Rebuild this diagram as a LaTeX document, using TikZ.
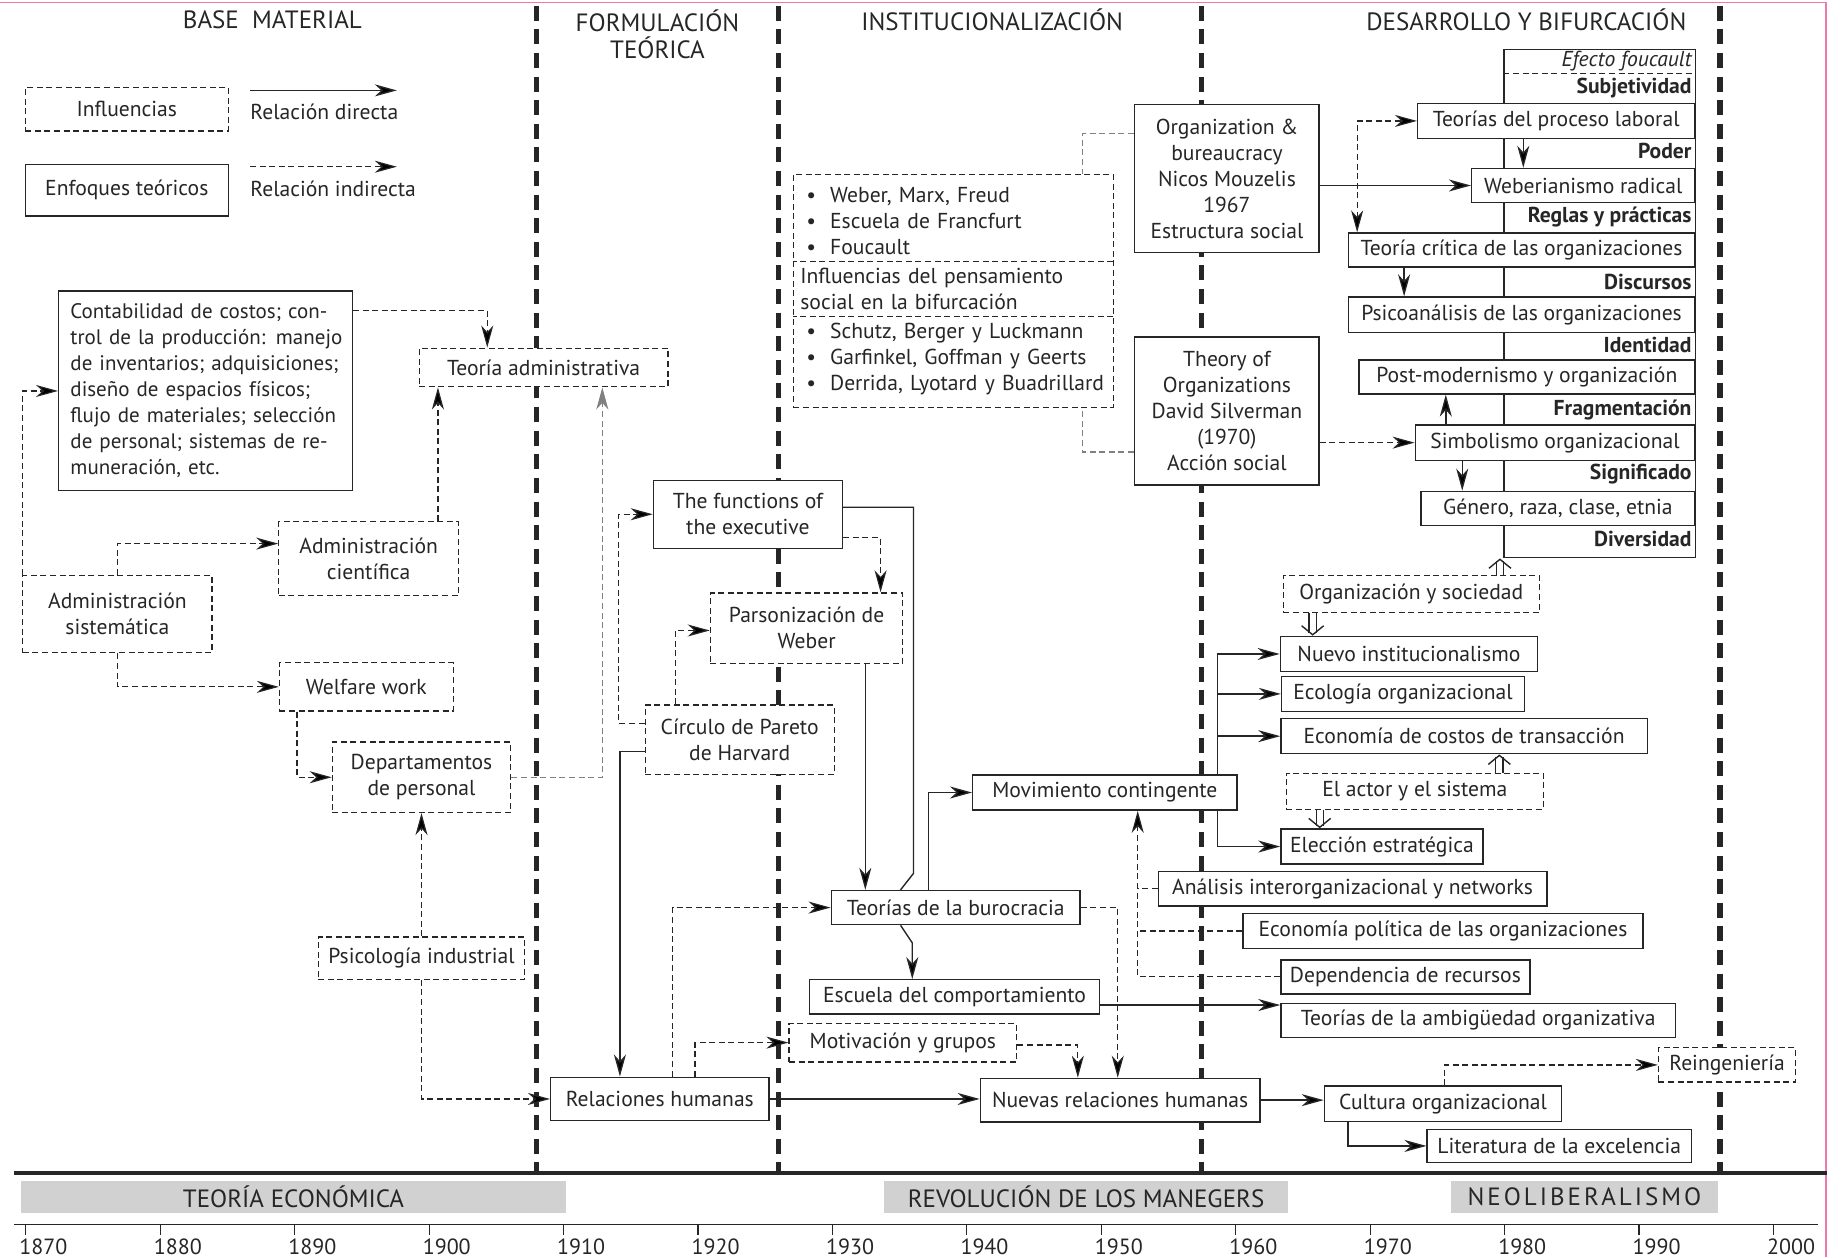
\documentclass[tikz,border=0pt]{standalone}
\usepackage{fontspec}
\setmainfont{PT Sans}
\usetikzlibrary{arrows.meta,calc,shapes.multipart}

\newlength{\unitpx}
\setlength{\unitpx}{0.587pt}
\newcommand{\boxfont}{\fontsize{10.8}{13}\selectfont}
\newcommand{\headfont}{\fontsize{12.5}{13.5}\selectfont}
\newcommand{\yearfont}{\fontsize{11}{13}\selectfont}
\newcommand{\jline}[1]{\makebox[\linewidth][s]{#1}}
\newcommand{\bitem}[1]{\mbox{\hspace*{3pt}\textbullet\hspace{7pt}#1}}

\definecolor{ink}{gray}{0.15}
\definecolor{bandgray}{gray}{0.82}
\definecolor{framepink}{RGB}{240,120,170}

\tikzstyle{theory} = [rectangle, draw=ink, line width=0.7pt, fill=white,
    text=ink, inner sep=2pt, align=center, font=\boxfont]
\tikzstyle{influence} = [theory, line width=0.6pt, dash pattern=on 3pt off 1.8pt]
\tikzstyle{line} = [draw=ink, line width=0.7pt, -{Stealth[length=11pt,width=6pt,inset=3.3pt]}]
\tikzstyle{dline} = [line, line width=0.6pt, dash pattern=on 3pt off 1.8pt]
\tikzstyle{dboth} = [dline, {Stealth[length=11pt,width=6pt,inset=3.3pt]}-{Stealth[length=11pt,width=6pt,inset=3.3pt]}]
\tikzstyle{period} = [draw=ink, line width=2.6pt, dash pattern=on 7.5pt off 4.3pt]
\tikzstyle{band} = [fill=bandgray, text=ink, inner sep=0pt, font=\headfont]
\tikzstyle{trend} = [draw=ink, double, double distance=3pt, line width=0.6pt, shorten >=1.2pt]
\tikzstyle{trendtip} = [draw=white, line width=0.3pt,
    -{Straight Barb[color=ink, length=4.5pt, width=11pt, line width=0.7pt]}]
\tikzstyle{tag} = [anchor=east, inner sep=0pt, text=ink, font=\boxfont\bfseries]
\tikzset{wd/.style={minimum width=#1*\unitpx}, ht/.style={minimum height=#1*\unitpx}}

\begin{document}
\begin{tikzpicture}[x=0.587pt, y=-0.587pt, font=\boxfont, text=ink]
    \useasboundingbox (0,0) rectangle (1568,1071);
    \draw[framepink, line width=0.8pt] (0,2) -- (1555,2) -- (1555,1071);

    % Periods
    \foreach \x in {457,663,1023,1465}
        \draw[period] (\x,5) -- (\x,999);
    \node[draw=ink, line width=0.7pt, wd=163, ht=433, inner sep=0pt] (frame) at (1362.5,258.5) {};
    \draw[ink, line width=0.6pt, dash pattern=on 3pt off 1.8pt]
        ($(frame.north west)+(0,21)$) -- ($(frame.north east)+(0,21)$);

    % Place nodes
    % Headings
    \node[font=\headfont] (hbase) at (232,17) {BASE\ \ MATERIAL};
    \node[font=\headfont, align=center] (hform) at (560,29) {FORMULACIÓN\\TEÓRICA};
    \node[font=\headfont] (hinst) at (845,17) {INSTITUCIONALIZACIÓN};
    \node[font=\headfont] (hdesa) at (1300,17) {DESARROLLO Y BIFURCACIÓN};

    % Legend
    \node[influence, wd=173, ht=37] (leginf) at (108,93) {Influencias};
    \node[theory, wd=173, ht=44] (legenf) at (108,162) {Enfoques teóricos};
    \coordinate (dirA) at (213,77);
    \coordinate (dirB) at (338,77);
    \coordinate (indA) at (213,142);
    \coordinate (indB) at (338,142);
    \node[anchor=west, inner sep=0pt] (legdir) at (213,95) {Relación directa};
    \node[anchor=west, inner sep=0pt] (legind) at (213,161) {Relación indirecta};

    % Base material
    \node[theory, wd=250, ht=170, text width=135pt, align=left,
        font=\fontsize{10.5}{13}\selectfont] (cont) at (175,333) {%
        \jline{Contabilidad de costos; con-}\\
        \jline{trol de la producción: manejo}\\
        \jline{de inventarios; adquisiciones;}\\
        \jline{diseño de espacios físicos;}\\
        \jline{flujo de materiales; selección}\\
        \jline{de personal; sistemas de re-}\\
        muneración, etc.};
    \node[influence, wd=212, ht=33] (tadm) at (463,313) {Teoría administrativa};
    \node[influence, wd=161, ht=66] (asis) at (100,523) {Administración\\sistemática};
    \node[influence, wd=153, ht=63] (acie) at (314,476) {Administración\\científica};
    \node[influence, wd=148, ht=41] (welf) at (312,585) {Welfare work};
    \node[influence, wd=152, ht=60] (dper) at (359,662) {Departamentos\\de personal};
    \node[influence, wd=176, ht=36] (psic) at (359,816) {Psicología industrial};
    \node[theory, wd=186, ht=37] (relh) at (562,936) {Relaciones humanas};

    % Formulacion teorica
    \node[theory, wd=161, ht=58] (func) at (637,438) {The functions of\\the executive};
    \node[influence, wd=164, ht=60] (pars) at (687,535) {Parsonización de\\Weber};
    \node[influence, wd=161, ht=59] (circ) at (630,630) {Círculo de Pareto\\de Harvard};

    % Institucionalizacion
    \node[influence, rectangle split, rectangle split parts=3, anchor=north,
        text width=153pt, align=left, inner xsep=3.5pt, inner ysep=3pt] (infl) at (812,148) {%
        \bitem{\rule{0pt}{11pt}Weber, Marx, Freud}\\
        \bitem{Escuela de Francfurt}\\
        \bitem{Foucault}
        \nodepart{two}Influencias del pensamiento\\social en la bifurcación
        \nodepart{three}%
        \bitem{Schutz, Berger y Luckmann}\\
        \bitem{Garfinkel, Goffman y Geerts}\\
        \bitem{\rule[-5pt]{0pt}{5pt}Derrida, Lyotard y Buadrillard}};
    \node[theory, wd=212, ht=29] (bur) at (814,773) {Teorías de la burocracia};
    \node[theory, wd=247, ht=29] (esc) at (813,849) {Escuela del comportamiento};
    \node[influence, wd=194, ht=33] (moti) at (769,888) {Motivación y grupos};
    \node[theory, wd=238, ht=37] (nrh) at (954,937) {Nuevas relaciones humanas};
    \node[theory, wd=225, ht=30] (movc) at (941,675) {Movimiento contingente};
    \node[theory, wd=157, ht=126] (org) at (1045,152)
        {Organization \&\\bureaucracy\\Nicos Mouzelis\\1967\\Estructura social};
    \node[theory, wd=157, ht=126] (theo) at (1045,350)
        {Theory of\\Organizations\\David Silverman\\(1970)\\Acción social};

    % Desarrollo y bifurcacion
    \node[tag, font=\boxfont\itshape] (tefe) at (1441,52) {Efecto foucault};
    \node[tag] (tsub) at (1441,75) {Subjetividad};
    \node[tag] (tpod) at (1441,129) {Poder};
    \node[tag] (treg) at (1441,185) {Reglas y prácticas};
    \node[tag] (tdis) at (1441,240) {Discursos};
    \node[tag] (tide) at (1441,294) {Identidad};
    \node[tag] (tfra) at (1441,349) {Fragmentación};
    \node[tag] (tsig) at (1441,404) {Significado};
    \node[tag] (tdiv) at (1441,459) {Diversidad};

    \node[theory, anchor=east, wd=236, ht=30] (proc) at (1444,103) {Teorías del proceso laboral};
    \node[theory, anchor=east, wd=190, ht=29] (webr) at (1444,158) {Weberianismo radical};
    \node[theory, anchor=east, wd=295, ht=29] (crit) at (1444,213) {Teoría crítica de las organizaciones};
    \node[theory, anchor=east, wd=295, ht=30] (psia) at (1444,268) {Psicoanálisis de las organizaciones};
    \node[theory, anchor=east, wd=286, ht=29] (post) at (1444,321) {Post-modernismo y organización};
    \node[theory, anchor=east, wd=238, ht=30] (simb) at (1444,377) {Simbolismo organizacional};
    \node[theory, anchor=east, wd=233, ht=29] (gene) at (1444,433) {Género, raza, clase, etnia};

    \node[influence, wd=218, ht=32] (orgs) at (1202,506) {Organización y sociedad};
    \node[theory, wd=219, ht=30] (nuev) at (1200,557) {Nuevo institucionalismo};
    \node[theory, wd=207, ht=30] (ecol) at (1195,591) {Ecología organizacional};
    \node[theory, wd=312, ht=30] (ecos) at (1247,627) {Economía de costos de transacción};
    \node[influence, wd=219, ht=31] (actr) at (1205,674) {El actor y el sistema};
    \node[theory, wd=172, ht=30] (elec) at (1177,721) {Elección estratégica};
    \node[theory, wd=331, ht=29] (anal) at (1152,757) {Análisis interorganizacional y networks};
    \node[theory, wd=341, ht=30] (epol) at (1229,793) {Economía política de las organizaciones};
    \node[theory, wd=212, ht=29] (depr) at (1197,832) {Dependencia de recursos};
    \node[theory, wd=336, ht=29] (ambi) at (1259,869) {Teorías de la ambigüedad organizativa};
    \node[influence, wd=117, ht=29] (rein) at (1471,907) {Reingeniería};
    \node[theory, wd=202, ht=30] (cult) at (1229,940) {Cultura organizacional};
    \node[theory, wd=225, ht=28] (lite) at (1328,976) {Literatura de la excelencia};
    \coordinate (busx) at (969,0);

    % Draw edges
    % Legend
    \path[line] (dirA) -- (dirB);
    \path[dline] (indA) -- (indB);

    % Base material
    \path[dline] ($(cont.north east)+(0,17)$) -| ($(tadm.north)+(-48,0)$);
    \path[dline] (asis.north west) |- (cont.west);
    \path[dline] (asis.north) |- ($(acie.west)+(0,-13)$);
    \path[dline] ($(acie.north)+(59,0)$) -- ($(tadm.south)+(-90,0)$);
    \path[dline] (asis.south) |- (welf.west);
    \path[dline] ($(welf.south)+(-59,0)$) |- (dper.west);
    \path[dline, draw=gray] (dper.east) -| ($(tadm.south)+(50,0)$);
    \path[dline] (psic.north) -- (dper.south);
    \path[dline] (psic.south) |- (relh.west);

    % Formulacion teorica
    \path[dline] ($(circ.west)+(0,-14)$) -| ($(func.west)+(-29,0)$) -- (func.west);
    \path[line] ($(circ.west)+(0,10)$) -| ($(relh.north)+(-34,0)$);
    \path[dline] ($(circ.north)+(-55,0)$) |- ($(pars.west)+(0,2)$);
    \path[dline] ($(func.east)+(0,20)$) -| ($(pars.north)+(63,0)$);
    \path[line] ($(pars.south)+(50,0)$) -- ($(bur.north)+(-77,0)$);
    \draw[ink, line width=0.7pt] ($(func.east)+(0,-6)$) -| ($(bur.north)+(-36,-14)$)
        -- ($(bur.north)+(-47,0)$);
    \path[line] ($(bur.south)+(-47,0)$) -- ($(bur.south)+(-37,15)$) -- ($(esc.north)+(-36,0)$);

    % Institucionalizacion
    \draw[gray, line width=0.6pt, dash pattern=on 3pt off 1.8pt]
        ($(org.west)+(0,-38)$) -| ($(infl.north)+(110,0)$);
    \draw[gray, line width=0.6pt, dash pattern=on 3pt off 1.8pt]
        ($(theo.west)+(0,35)$) -| ($(infl.south)+(110,0)$);
    \path[dline] ($(relh.north)+(11,0)$) |- (bur.west);
    \path[dline] ($(relh.north)+(30,0)$) |- (moti.west);
    \path[dline] (bur.east) -| ($(nrh.north)+(-2,0)$);
    \path[dline] ($(moti.east)+(0,2)$) -| ($(nrh.north)+(-36,0)$);
    \path[line] (relh.east) -- (relh.east -| nrh.west);
    \path[line] ($(bur.north)+(-23,0)$) |- (movc.west);
    \path[line] ($(esc.east)+(0,7)$) -- ($(ambi.west)+(0,-13)$);

    % Desarrollo y bifurcacion
    \path[line] ($(movc.north)+(96,0)$) |- (nuev.west);
    \path[line] ($(movc.north)+(96,0)$) |- (ecol.west);
    \path[line] ($(movc.north)+(96,0)$) |- (ecos.west);
    \path[line] ($(movc.south)+(96,0)$) |- (elec.west);
    \path[dline] (depr.west) -| ($(movc.south)+(28,0)$);
    \draw[ink, line width=0.6pt, dash pattern=on 3pt off 1.8pt] (anal.west) -- (anal.west -| busx);
    \draw[ink, line width=0.6pt, dash pattern=on 3pt off 1.8pt] (epol.west) -- (epol.west -| busx);

    % Double arrows
    \path[trend] ($(orgs.north)+(75.5,0)$) -- ($(frame.south)+(-85,0)$);
    \path[trendtip] ($(orgs.north)+(75.5,0)$) -- ($(frame.south)+(-85,0)$);
    \path[trend] ($(orgs.south)+(-84,0)$) -- ($(nuev.north)+(-82,0)$);
    \path[trendtip] ($(orgs.south)+(-84,0)$) -- ($(nuev.north)+(-82,0)$);
    \path[trend] ($(actr.north)+(72,0)$) -- ($(ecos.south)+(30,0)$);
    \path[trendtip] ($(actr.north)+(72,0)$) -- ($(ecos.south)+(30,0)$);
    \path[trend] ($(actr.south)+(-81,0)$) -- ($(elec.north)+(-53,0)$);
    \path[trendtip] ($(actr.south)+(-81,0)$) -- ($(elec.north)+(-53,0)$);

    \path[line] (webr.west -| org.east) -- (webr.west);
    \path[dboth] ($(crit.north)+(-140,0)$) |- (proc.west);
    \path[line] ($(proc.south)+(-28,0)$) -- ($(webr.north)+(-51,0)$);
    \path[line] ($(crit.south)+(-100,0)$) -- ($(psia.north)+(-100,0)$);
    \path[line] ($(simb.north)+(-93,0)$) -- ($(post.south)+(-69,0)$);
    \path[line] ($(simb.south)+(-79,0)$) -- ($(gene.north)+(-81.5,0)$);
    \path[dline] (simb.west -| theo.east) -- (simb.west);

    \path[line] (nrh.east) -- (nrh.east -| cult.west);
    \path[dline] ($(cult.north)+(1,0)$) |- (rein.west);
    \path[line] ($(cult.south)+(-81,0)$) |- (lite.west);

    % Timeline
    \draw[ink, line width=2.4pt] (12,999) -- (1556,999);
    \node[band, wd=464, ht=27] (beco) at (250,1019.5) {TEORÍA ECONÓMICA};
    \node[band, wd=344, ht=27] (brev) at (925,1019.5) {REVOLUCIÓN DE LOS MANEGERS};
    \node[band, wd=227, ht=27] (bneo) at (1349.5,1019.5) {\addfontfeature{LetterSpace=12}NEOLIBERALISMO};
    \draw[ink, line width=0.6pt] (12,1043) -- (1548,1043);
    \foreach \i in {0,...,13} {
        \pgfmathtruncatemacro{\yr}{1870+10*\i}
        \draw[ink, line width=0.6pt] (22+114.5*\i,1043) -- (22+114.5*\i,1052);
        \node[font=\yearfont] at (37+114.5*\i,1062) {\yr};
    }
\end{tikzpicture}
\end{document}
